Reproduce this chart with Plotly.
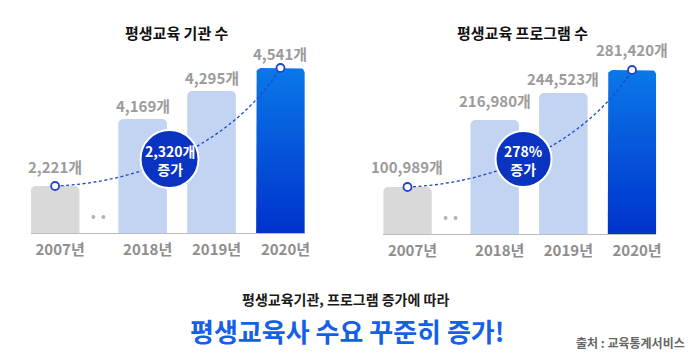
import numpy as np
import plotly.graph_objects as go

# ---------------- data ----------------
years = ["2007년", "2018년", "2019년", "2020년"]
titles = ["평생교육 기관 수", "평생교육 프로그램 수"]
inst_values = [2221, 4169, 4295, 4541]
prog_values = [100989, 216980, 244523, 281420]
# bar heights as drawn in the infographic (illustrative, not to scale)
inst_bar_level = [47, 114, 142, 165]
prog_bar_level = [47, 114, 141, 164]
inst_badge = ["2,320개", "증가"]
prog_badge = ["278%", "증가"]
headline = "평생교육기관, 프로그램 증가에 따라"
slogan = "평생교육사 수요 꾸준히 증가!"
source = "출처 : 교육통계서비스"

# ---------------- layout / style ----------------
FONT = "Noto Sans CJK KR"
W, H = 699, 363
pos = [0, 1.27, 2.27, 3.27]
bar_w = 0.706
bar_colors = ["#d9d9d9", "#c2d4f2", "#c2d4f2"]
grad_bottom, grad_top = "#0032cc", "#0a78e8"
curve_color = "#1f45cf"
badge_color = "#0a33c2"
label_color = "#9b9b9b"
tick_color = "#8e8e8e"

charts = [
    dict(values=inst_values, levels=inst_bar_level, badge=inst_badge, title=titles[0],
         xa="x", ya="y", px0=31, px1=307, base_px=233, title_px=(178, 32),
         badge_xy=(1.66, 74), badge_r=29, label_gap=[20, 14, 14, 15]),
    dict(values=prog_values, levels=prog_bar_level, badge=prog_badge, title=titles[1],
         xa="x2", ya="y2", px0=386, px1=661, base_px=234, title_px=(526, 32),
         badge_xy=(1.69, 75), badge_r=28, label_gap=[21, 20, 15, 21]),
]

fig = go.Figure()
shapes, annotations = [], []
layout_axes = {}

for i, c in enumerate(charts):
    xa, ya = c["xa"], c["ya"]
    vals, lv = c["values"], c["levels"]
    span_px = c["px1"] - c["px0"]
    sx = span_px / (pos[-1] - pos[0] + bar_w)  # px per x unit

    # regular bars
    fig.add_trace(go.Bar(
        x=pos[:3], y=lv[:3], width=bar_w, marker=dict(color=bar_colors, cornerradius=5, line=dict(width=0)),
        xaxis=xa, yaxis=ya, hoverinfo="skip", showlegend=False))

    # gradient bar (last) drawn as filled path with rounded top corners
    p, h = pos[3], lv[3]
    x0, x1 = p - bar_w / 2, p + bar_w / 2
    rx, ry = 5 / sx, 5
    a1 = np.linspace(np.pi, np.pi / 2, 8)
    a2 = np.linspace(np.pi / 2, 0, 8)
    xs = [x0] + list(x0 + rx + rx * np.cos(a1)) + list(x1 - rx + rx * np.cos(a2)) + [x1, x0]
    ys = [0] + list(h - ry + ry * np.sin(a1)) + list(h - ry + ry * np.sin(a2)) + [0, 0]
    fig.add_trace(go.Scatter(
        x=xs, y=ys, mode="lines", fill="toself", line=dict(width=0, color=grad_bottom),
        fillgradient=dict(type="vertical", colorscale=[[0, grad_bottom], [1, grad_top]], start=0, stop=h),
        xaxis=xa, yaxis=ya, hoverinfo="skip", showlegend=False))

    # ellipsis dots between 2007 and 2018
    fig.add_trace(go.Scatter(
        x=[0.555, 0.70], y=[16, 16], mode="markers", marker=dict(size=4, color="#b3b3b3"),
        xaxis=xa, yaxis=ya, hoverinfo="skip", showlegend=False))

    # dashed trend curve
    X0, Y0, X3, Y3 = pos[0], lv[0], pos[3], lv[3]
    dx, dy = X3 - X0, Y3 - Y0
    path = (f"M {X0},{Y0} C {X0 + 0.5 * dx},{Y0 + 0.04 * dy} "
            f"{X0 + 0.85 * dx},{Y0 + 0.53 * dy} {X3},{Y3}")
    shapes.append(dict(type="path", path=path, xref=xa, yref=ya, layer="above",
                       line=dict(color=curve_color, width=1.3, dash="3px,2.5px")))
    for (ex, ey) in [(X0, Y0), (X3, Y3)]:
        shapes.append(dict(type="circle", xref=xa, yref=ya, xsizemode="pixel", ysizemode="pixel",
                           xanchor=ex, yanchor=ey, x0=-4, x1=4, y0=-4, y1=4, layer="above",
                           fillcolor="white", line=dict(color=curve_color, width=1.8)))
    bx, by = c["badge_xy"]
    r = c["badge_r"]
    shapes.append(dict(type="circle", xref=xa, yref=ya, xsizemode="pixel", ysizemode="pixel",
                       xanchor=bx, yanchor=by, x0=-r, x1=r, y0=-r, y1=r, layer="above",
                       fillcolor=badge_color, line=dict(color="white", width=2)))
    annotations.append(dict(x=bx, y=by, xref=xa, yref=ya, text="<br>".join(c["badge"]),
                            showarrow=False, xanchor="center", yanchor="middle", yshift=-1,
                            font=dict(family=FONT, size=14, color="white", weight="bold")))

    # value labels
    for j in range(4):
        annotations.append(dict(x=pos[j], y=lv[j], xref=xa, yref=ya, text=f"{vals[j]:,}개",
                                showarrow=False, yanchor="middle", yshift=c["label_gap"][j],
                                font=dict(family=FONT, size=15, color=label_color, weight="bold")))

    # title
    tx, ty = c["title_px"]
    annotations.append(dict(x=tx / W, y=1 - ty / H, xref="paper", yref="paper", text=c["title"],
                            showarrow=False, xanchor="center", yanchor="middle",
                            font=dict(family=FONT, size=15, color="#111111", weight="bold")))

    base = c["base_px"]
    xkey = "xaxis" if xa == "x" else "xaxis2"
    ykey = "yaxis" if ya == "y" else "yaxis2"
    layout_axes[xkey] = dict(
        domain=[c["px0"] / W, c["px1"] / W], range=[pos[0] - bar_w / 2, pos[-1] + bar_w / 2],
        anchor="free", position=1 - base / H, showline=True, linecolor="#bdbdbd", linewidth=1,
        showgrid=False, zeroline=False, ticks="", tickvals=pos, ticktext=years,
        ticklabelshift=5, ticklabelstandoff=3,
        tickfont=dict(family=FONT, size=15, color=tick_color, weight="bold"), fixedrange=True)
    layout_axes[ykey] = dict(domain=[0, 1], range=[base - H, base], visible=False, fixedrange=True)
    if ya == "y2":
        layout_axes[ykey]["anchor"] = "x2"

# bottom texts
annotations.append(dict(x=348 / W, y=1 - 299 / H, xref="paper", yref="paper", text=headline,
                        showarrow=False, xanchor="center", yanchor="middle",
                        font=dict(family=FONT, size=14, color="#1a1a1a", weight="bold")))
annotations.append(dict(x=349.5 / W, y=1 - 330 / H, xref="paper", yref="paper", text=slogan,
                        showarrow=False, xanchor="center", yanchor="middle",
                        font=dict(family=FONT, size=26, color="#1560e6", weight="bold")))
annotations.append(dict(x=692 / W, y=1 - 342 / H, xref="paper", yref="paper", text=source,
                        showarrow=False, xanchor="right", yanchor="middle",
                        font=dict(family=FONT, size=12, color="#666666", weight="bold")))

fig.update_layout(
    width=W, height=H, margin=dict(l=0, r=0, t=0, b=0),
    paper_bgcolor="white", plot_bgcolor="white", showlegend=False,
    barmode="overlay", shapes=shapes, annotations=annotations, **layout_axes)

fig.write_html("out.html", config={"displayModeBar": False},
               post_script="document.body.style.margin='0';document.body.style.overflow='hidden';")
